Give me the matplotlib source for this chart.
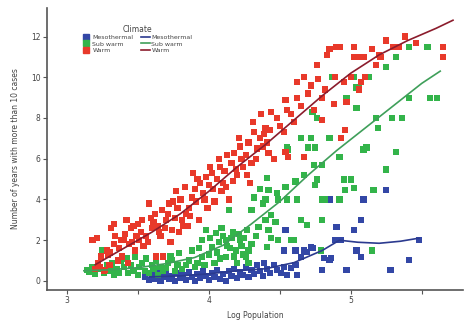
"""Scatter of climate groups vs log population with smoothed fits."""

import matplotlib.pyplot as plt
from matplotlib.lines import Line2D

# Warm (red) points: (log population, years)
warm = [
    (3.18, 2.0), (3.21, 2.1), (3.20, 0.6), (3.22, 0.9), (3.23, 0.7), (3.24, 1.2),
    (3.26, 0.5), (3.27, 0.55), (3.28, 1.5), (3.29, 1.3), (3.30, 1.4), (3.30, 0.8),
    (3.31, 2.6), (3.33, 2.8), (3.33, 1.8), (3.34, 2.2), (3.36, 1.0), (3.37, 1.6),
    (3.38, 2.0), (3.39, 1.2), (3.40, 2.0), (3.41, 2.3), (3.42, 3.0), (3.43, 0.9),
    (3.44, 1.8), (3.45, 2.6), (3.46, 1.9), (3.47, 2.7), (3.48, 1.5), (3.49, 2.2),
    (3.50, 2.8), (3.51, 2.0), (3.52, 2.4), (3.53, 3.0), (3.54, 1.7),
    (3.56, 2.2), (3.57, 1.9), (3.58, 3.8), (3.59, 3.1), (3.60, 2.6), (3.61, 2.9),
    (3.62, 3.3), (3.63, 1.2), (3.64, 2.7), (3.65, 2.4), (3.66, 2.2), (3.67, 3.5),
    (3.68, 1.2), (3.69, 2.6), (3.70, 3.0), (3.71, 3.3), (3.72, 3.8), (3.73, 1.9),
    (3.74, 2.5), (3.75, 3.9),
    (3.76, 3.1), (3.77, 4.4), (3.78, 3.6), (3.79, 2.4), (3.80, 4.0), (3.81, 3.0),
    (3.82, 2.7), (3.83, 4.6), (3.84, 3.3), (3.85, 2.7), (3.86, 3.6), (3.87, 3.2),
    (3.88, 4.1), (3.89, 5.3), (3.90, 4.5), (3.91, 3.9), (3.92, 5.0), (3.93, 3.0),
    (3.94, 4.8),
    (3.96, 4.3), (3.97, 4.0), (3.98, 5.1), (3.99, 3.6), (4.00, 4.7), (4.01, 5.6),
    (4.02, 5.3), (4.03, 4.5), (4.04, 3.9), (4.06, 5.0), (4.07, 6.0), (4.08, 5.6),
    (4.09, 4.4), (4.10, 4.8), (4.11, 5.4), (4.12, 4.6), (4.13, 6.2), (4.14, 4.0),
    (4.16, 5.8), (4.17, 4.9), (4.18, 6.3), (4.19, 5.5), (4.20, 5.2), (4.21, 7.0),
    (4.22, 6.6), (4.23, 6.0), (4.24, 5.6), (4.26, 6.2), (4.27, 5.2), (4.28, 6.8),
    (4.29, 4.8), (4.30, 5.8), (4.31, 7.8), (4.32, 7.3), (4.33, 6.0), (4.34, 6.5),
    (4.36, 7.0), (4.37, 8.2), (4.38, 6.6), (4.39, 7.2), (4.40, 7.5), (4.41, 6.8),
    (4.42, 6.3), (4.43, 7.4), (4.44, 8.3), (4.46, 6.0), (4.48, 8.0), (4.50, 7.6),
    (4.53, 7.3), (4.54, 8.9), (4.54, 6.35), (4.55, 8.4), (4.56, 6.1), (4.58, 8.2),
    (4.60, 7.8),
    (4.62, 9.0), (4.62, 9.75), (4.65, 8.6), (4.67, 10.0), (4.67, 6.1), (4.70, 9.2),
    (4.72, 9.6), (4.74, 8.4), (4.76, 10.6), (4.77, 9.9), (4.80, 9.0), (4.80, 7.9),
    (4.82, 9.4), (4.83, 11.1), (4.85, 11.4),
    (4.88, 8.7), (4.89, 10.0), (4.90, 11.5), (4.92, 11.5), (4.93, 7.0), (4.95, 9.75),
    (4.96, 7.4), (4.97, 8.8), (5.00, 10.0), (5.02, 11.5), (5.02, 11.0), (5.04, 11.0),
    (5.06, 9.4), (5.07, 9.75), (5.09, 11.0), (5.10, 10.0),
    (5.15, 11.4), (5.18, 10.6), (5.20, 11.1), (5.21, 11.0), (5.25, 11.8), (5.30, 11.5),
    (5.34, 11.5), (5.38, 12.0), (5.46, 11.7), (5.65, 11.5), (5.65, 11.0),
]

# Sub warm (green) points
subwarm = [
    (3.14, 0.55), (3.16, 0.45), (3.18, 0.7), (3.20, 0.35), (3.22, 0.6), (3.25, 1.5),
    (3.26, 0.4), (3.28, 0.8), (3.30, 0.5), (3.32, 0.9), (3.33, 0.3), (3.35, 0.6),
    (3.37, 0.4), (3.38, 1.0), (3.40, 0.7), (3.42, 1.1), (3.43, 0.4), (3.45, 0.8),
    (3.47, 0.5), (3.48, 1.2), (3.50, 0.3), (3.51, 0.7), (3.53, 0.9), (3.55, 0.5),
    (3.56, 1.1), (3.58, 0.4), (3.60, 0.8), (3.61, 0.6), (3.63, 1.0), (3.64, 0.3),
    (3.66, 0.7), (3.68, 0.5), (3.70, 0.64), (3.71, 0.9), (3.73, 1.2), (3.74, 1.03),
    (3.76, 0.5), (3.78, 0.8), (3.79, 1.38), (3.81, 0.6), (3.84, 0.79), (3.86, 1.0),
    (3.88, 1.5), (3.90, 0.7), (3.92, 0.9), (3.93, 1.6), (3.95, 1.18), (3.95, 2.0),
    (3.97, 0.8), (3.98, 2.5), (4.00, 1.3), (4.01, 2.1), (4.02, 1.67), (4.04, 0.9),
    (4.05, 2.36), (4.06, 1.4), (4.07, 1.9), (4.08, 1.1), (4.09, 2.6), (4.10, 2.2),
    (4.12, 1.18), (4.12, 2.0), (4.13, 1.7), (4.14, 3.5), (4.15, 1.6), (4.16, 2.1),
    (4.17, 2.4), (4.18, 1.2), (4.19, 1.5), (4.20, 0.9), (4.21, 2.3), (4.22, 2.0),
    (4.23, 1.7), (4.24, 1.3), (4.25, 2.1), (4.26, 1.18), (4.27, 2.5), (4.28, 0.89),
    (4.28, 1.5), (4.30, 3.5), (4.30, 1.8), (4.32, 4.1), (4.33, 2.2), (4.35, 2.66),
    (4.36, 4.5), (4.38, 3.8), (4.40, 3.0), (4.40, 4.0), (4.41, 1.67), (4.41, 5.07),
    (4.42, 4.48), (4.42, 2.5), (4.44, 3.25), (4.44, 2.1), (4.47, 2.9), (4.48, 4.33),
    (4.49, 4.0), (4.49, 2.0), (4.54, 4.63), (4.55, 4.0), (4.55, 6.55), (4.56, 6.45),
    (4.58, 2.0), (4.60, 2.0), (4.61, 4.88), (4.62, 4.0), (4.65, 3.0), (4.65, 7.0),
    (4.67, 5.2), (4.69, 2.76), (4.70, 6.55), (4.72, 7.0), (4.73, 8.3), (4.74, 5.7),
    (4.75, 4.73), (4.75, 6.55), (4.76, 8.0), (4.76, 4.98), (4.79, 1.5), (4.80, 5.7),
    (4.80, 4.0), (4.80, 3.0), (4.82, 4.0), (4.85, 7.0), (4.87, 10.0), (4.92, 4.0),
    (4.92, 6.1), (4.95, 4.98), (4.96, 4.48), (4.97, 9.0), (5.00, 4.98), (5.02, 10.0),
    (5.02, 4.58), (5.04, 9.5), (5.04, 8.5), (5.06, 9.5), (5.09, 6.45), (5.11, 6.55),
    (5.13, 10.0), (5.15, 1.5), (5.16, 4.48), (5.18, 8.0), (5.19, 7.5), (5.25, 10.5),
    (5.25, 5.47), (5.29, 8.0), (5.32, 11.0), (5.32, 6.35), (5.36, 8.0), (5.41, 11.5),
    (5.41, 9.0), (5.54, 11.5), (5.56, 9.0), (5.61, 9.0),
]

# Mesothermal (blue) points
meso = [
    (3.55, 0.2), (3.58, 0.05), (3.60, 0.3), (3.62, 0.1), (3.64, 0.4), (3.66, 0.0),
    (3.68, 0.2), (3.70, 0.35), (3.72, 0.1), (3.74, 0.25), (3.76, 0.0), (3.78, 0.4),
    (3.80, 0.15), (3.82, 0.3), (3.84, 0.05), (3.86, 0.45), (3.88, 0.2), (3.90, 0.0),
    (3.92, 0.35), (3.94, 0.15), (3.96, 0.5), (3.98, 0.25), (4.00, 0.05), (4.02, 0.4),
    (4.04, 0.2), (4.06, 0.55), (4.08, 0.1), (4.10, 0.35), (4.12, 0.0), (4.14, 0.5),
    (4.16, 0.25), (4.18, 0.6), (4.20, 0.15), (4.22, 0.45), (4.24, 0.3), (4.26, 0.7),
    (4.28, 0.2), (4.30, 0.55), (4.32, 0.35), (4.34, 0.8), (4.36, 0.5), (4.38, 0.25),
    (4.39, 0.89), (4.41, 0.6), (4.43, 0.4), (4.46, 0.79), (4.48, 0.55), (4.51, 0.39),
    (4.53, 0.7), (4.55, 0.3), (4.58, 0.64), (4.61, 0.79), (4.62, 0.3), (4.65, 1.18),
    (4.69, 1.43), (4.73, 1.63), (4.54, 2.5), (4.53, 1.5), (4.61, 1.5), (4.67, 1.5),
    (4.72, 1.67), (4.80, 0.54), (4.81, 1.13), (4.85, 1.03), (4.86, 1.13), (4.85, 4.0),
    (4.89, 2.0), (4.90, 2.66), (4.93, 2.0), (4.97, 0.54), (5.02, 2.5), (5.04, 1.5),
    (5.07, 1.18), (5.07, 3.0), (5.09, 4.0), (5.25, 4.48), (5.28, 0.54), (5.41, 1.03),
    (5.48, 2.02),
]

# smoothed fit lines
warm_fit_x = [3.2, 3.4, 3.6, 3.8, 4.0, 4.2, 4.4, 4.6, 4.8, 5.0, 5.2, 5.4, 5.6, 5.72]
warm_fit_y = [0.8, 1.6, 2.4, 3.3, 4.4, 5.6, 6.7, 7.9, 9.1, 10.2, 11.1, 11.8, 12.4, 12.8]
sub_fit_x = [3.12, 3.3, 3.5, 3.7, 3.9, 4.1, 4.3, 4.5, 4.7, 4.9, 5.1, 5.3, 5.5, 5.63]
sub_fit_y = [0.5, 0.55, 0.65, 0.85, 1.15, 1.75, 2.8, 3.9, 5.2, 6.4, 7.5, 8.6, 9.7, 10.3]
meso_fit_x = [3.58, 3.8, 4.0, 4.2, 4.4, 4.6, 4.8, 4.92, 5.05, 5.2, 5.35, 5.48]
meso_fit_y = [0.2, 0.25, 0.35, 0.5, 0.6, 0.9, 1.5, 2.0, 1.9, 1.85, 1.95, 2.1]

BLUE, GREEN, RED = "#3347a6", "#33b44a", "#e8392a"
BLUE_L, GREEN_L, RED_L = "#2b3a8f", "#3f9f5a", "#8b1c2c"

fig = plt.figure(figsize=(4.77, 3.2), dpi=100)
ax = fig.add_axes([0.0985, 0.094, 0.872, 0.881])

for pts, col in [(meso, BLUE), (subwarm, GREEN), (warm, RED)]:
    ax.scatter([p[0] for p in pts], [p[1] for p in pts], s=20, marker="s",
               color=col, edgecolor="none", zorder=2)

ax.plot(meso_fit_x, meso_fit_y, color=BLUE_L, lw=1.2, zorder=3)
ax.plot(sub_fit_x, sub_fit_y, color=GREEN_L, lw=1.2, zorder=3)
ax.plot(warm_fit_x, warm_fit_y, color=RED_L, lw=1.2, zorder=3)

ax.set_xlim(2.86, 5.79)
ax.set_ylim(-0.44, 13.4)
ax.set_xticks([3, 4, 5])
ax.set_xticks([3.5, 4.5, 5.5], minor=True)
ax.set_yticks([0, 2, 4, 6, 8, 10, 12])
ax.tick_params(which="both", direction="out", length=3, width=0.8, pad=1.5,
               color="#555555", labelsize=5.5, labelcolor="#444444")
for side in ("top", "right"):
    ax.spines[side].set_visible(False)
for side in ("left", "bottom"):
    ax.spines[side].set_color("#555555")
    ax.spines[side].set_linewidth(1.2)

ax.set_xlabel("Log Population", fontsize=5.5, color="#444444", labelpad=4)
ax.set_ylabel("Number of years with more than 10 cases", fontsize=5.5,
              color="#444444", labelpad=8)

handles = [
    Line2D([], [], ls="none", marker="s", ms=4, color=BLUE),
    Line2D([], [], ls="none", marker="s", ms=4, color=GREEN),
    Line2D([], [], ls="none", marker="s", ms=4, color=RED),
    Line2D([], [], color=BLUE_L, lw=1.2),
    Line2D([], [], color=GREEN_L, lw=1.2),
    Line2D([], [], color=RED_L, lw=1.2),
]
labels = ["Mesothermal", "Sub warm", "Warm", "Mesothermal", "Sub warm", "Warm"]
leg = ax.legend(handles, labels, title="Climate", ncol=2, frameon=False,
                loc="upper left", bbox_to_anchor=(0.07, 0.96), fontsize=4.5,
                title_fontsize=5.5, handlelength=1.4, handletextpad=0.3,
                columnspacing=1.2, labelspacing=0.15)
for t in leg.get_texts():
    t.set_color("#444444")
leg.get_title().set_color("#444444")

fig.savefig("out.png", dpi=100)
